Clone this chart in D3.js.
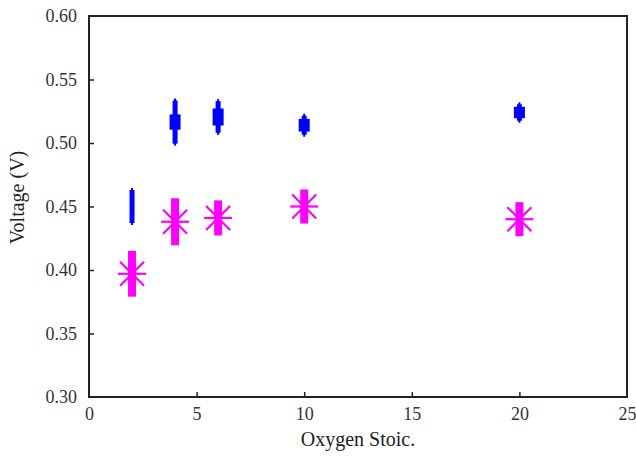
<!DOCTYPE html>
<html><head><meta charset="utf-8">
<script src="https://cdn.jsdelivr.net/npm/d3@7"></script>
<style>body{margin:0;background:#fff}svg{display:block}
svg text{font-family:"Liberation Serif","DejaVu Serif","Times New Roman",Times,serif !important}</style>
</head><body>
<svg id="c" width="636" height="457"></svg>
<script>
const xs = [2, 4, 6, 10, 20];
const blueV = [0.450, 0.5165, 0.5205, 0.514, 0.524];
const blueErr = [0.013, 0.017, 0.0125, 0.0075, 0.0065];
const blueInner = [0, 0.006, 0.0067, 0.005, 0.0045];
const magV = [0.397, 0.438, 0.441, 0.450, 0.440];
const magErr = [0.018, 0.0185, 0.0138, 0.0134, 0.0134];
const xTicks = [0, 5, 10, 15, 20, 25];
const yTicks = [0.30, 0.35, 0.40, 0.45, 0.50, 0.55, 0.60];

const svg = d3.select("#c");
const L = 89, R = 627, T = 16, B = 397;
const x = d3.scaleLinear().domain([0, 25]).range([L, R]);
const y = d3.scaleLinear().domain([0.30, 0.60]).range([B, T]);

const gx = svg.append("g").attr("transform", `translate(0,${B})`)
  .call(d3.axisBottom(x).tickValues(xTicks).tickSizeInner(-5).tickSizeOuter(0).tickPadding(10).tickFormat(d3.format("d")));
const gy = svg.append("g").attr("transform", `translate(${L},0)`)
  .call(d3.axisLeft(y).tickValues(yTicks).tickSizeInner(-5).tickSizeOuter(0).tickPadding(12).tickFormat(d3.format(".2f")));
[gx, gy].forEach(g => {
  g.attr("font-family", null).attr("font-size", null);
  g.select(".domain").remove();
  g.selectAll(".tick line").attr("stroke", "#222").attr("stroke-width", 1.5);
  g.selectAll(".tick text").style("font-size", "18px").attr("fill", "#333");
});
gx.selectAll(".tick line").filter(d => d === 0 || d === 25).remove();
gy.selectAll(".tick line").filter(d => d === 0.30 || d === 0.60).remove();

svg.append("rect").attr("x", L).attr("y", T).attr("width", R - L).attr("height", B - T)
  .attr("fill", "none").attr("stroke", "#222").attr("stroke-width", 2);

const blue = svg.append("g").attr("fill", "#0000ff").attr("stroke", "none");
xs.forEach((xv, i) => {
  const cx = x(xv), v = blueV[i], e = blueErr[i], n = blueInner[i];
  blue.append("rect").attr("x", cx - 1).attr("width", 2)
    .attr("y", y(v + e) - 2).attr("height", y(v - e) - y(v + e) + 4);
  blue.append("rect").attr("x", cx - 2.5).attr("width", 5)
    .attr("y", y(v + e)).attr("height", y(v - e) - y(v + e));
  if (n > 0) blue.append("rect").attr("x", cx - 5.5).attr("width", 11)
    .attr("y", y(v + n)).attr("height", y(v - n) - y(v + n));
});

const mag = svg.append("g");
xs.forEach((xv, i) => {
  const cx = x(xv), cy = y(magV[i]), e = magErr[i];
  mag.append("rect").attr("x", cx - 4).attr("width", 8)
    .attr("y", y(magV[i] + e)).attr("height", y(magV[i] - e) - y(magV[i] + e))
    .attr("fill", "#ff00ff");
  const r = 14, d = 12;
  const segs = [[-r, 0, r, 0], [-d, -d, d, d], [-d, d, d, -d], [0, -r, 0, r]];
  segs.forEach(s => mag.append("line")
    .attr("x1", cx + s[0]).attr("y1", cy + s[1]).attr("x2", cx + s[2]).attr("y2", cy + s[3])
    .attr("stroke", "#ff00ff").attr("stroke-width", 2.2));
});

svg.append("text").attr("x", (L + R) / 2).attr("y", 446).attr("text-anchor", "middle")
  .style("font-size", "20px").attr("fill", "#222").text("Oxygen Stoic.");
svg.append("text").attr("transform", `translate(24,${(T + B) / 2 - 9}) rotate(-90)`).attr("text-anchor", "middle")
  .style("font-size", "20px").attr("fill", "#222").text("Voltage (V)");
</script>
</body></html>
